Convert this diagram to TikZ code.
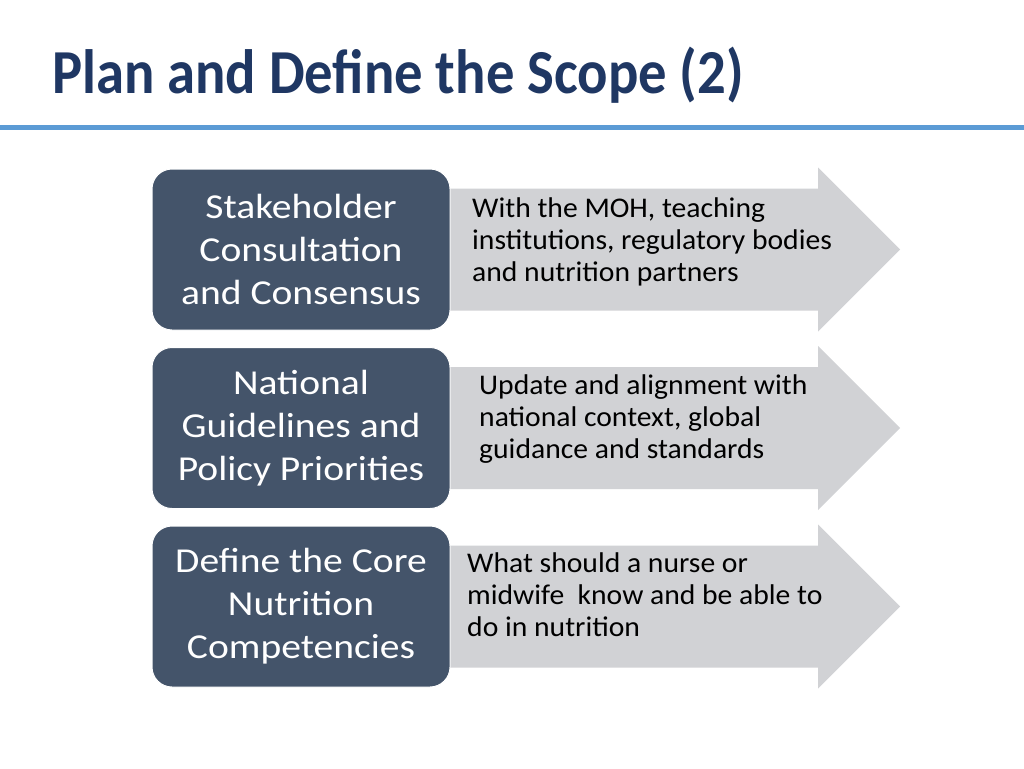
\documentclass[tikz,border=0pt]{standalone}
\usepackage{fontspec}
\setmainfont{Carlito}
\newfontfamily\titlefont[FakeStretch=0.905]{Carlito}
\newfontfamily\boxfont[FakeStretch=1.13]{Carlito}
\newfontfamily\notefont[FakeStretch=1.04]{Carlito}
\usepackage{tikz}
\usetikzlibrary{calc,positioning}
\usepackage{xcolor}
\definecolor{titleblue}{HTML}{1F3763}
\definecolor{ruleblue}{HTML}{5B9BD5}
\definecolor{boxslate}{HTML}{44546A}
\definecolor{arrowgray}{HTML}{D1D2D5}

\begin{document}
\begin{tikzpicture}[x=1pt,y=-1pt,
  stepbox/.style={fill=boxslate,draw=white,line width=1pt,rounded corners=20pt,
    minimum width=298pt,minimum height=161pt,align=center,text=white,
    font=\boxfont\fontsize{35}{43}\selectfont},
  notetext/.style={anchor=base west,align=left,inner sep=0pt,text=black,
    font=\notefont\fontsize{28.5}{32}\selectfont}]
  \useasboundingbox[fill=white] (0,0) rectangle (1024,768);
  % Title and rule
  \node[anchor=base west,inner sep=0pt,text=titleblue,font=\titlefont\fontsize{62.6}{70}\selectfont\bfseries]
    (title) at (52,93) {Plan and Define the Scope (2)};
  \draw[ruleblue,line width=5pt] (0,127.5)--(1024,127.5);
  % Row centres
  \coordinate (R1) at (0,249.5);
  \coordinate (R2) at (0,428);
  \coordinate (R3) at (0,606.5);
  % Arrows
  \foreach \r in {R1,R2,R3}{
    \fill[arrowgray] ($(\r)+(440,-61)$)--++(378,0)--++(0,-21)--++(82,82)
      --++(-82,82)--++(0,-21)--++(-378,0)--cycle;
  }
  % Boxes
  \node[stepbox] (box1) at ($(R1)+(301,0)$) {Stakeholder\\Consultation\\and Consensus};
  \node[stepbox] (box2) at ($(R2)+(301,0)$) {National\\Guidelines and\\Policy Priorities};
  \node[stepbox] (box3) at ($(R3)+(301,0)$) {Define the Core\\Nutrition\\Competencies};
  % Notes (base = last line)
  \node[notetext] (note1) at ($(R1)+(472,31.5)$) {With the MOH, teaching\\institutions, regulatory bodies\\and nutrition partners};
  \node[notetext] (note2) at ($(R2)+(479,30)$) {Update and alignment with\\national context, global\\guidance and standards};
  \node[notetext] (note3) at ($(R3)+(467,29.5)$) {What should a nurse or\\midwife\ \ know and be able to\\do in nutrition};
\end{tikzpicture}
\end{document}
